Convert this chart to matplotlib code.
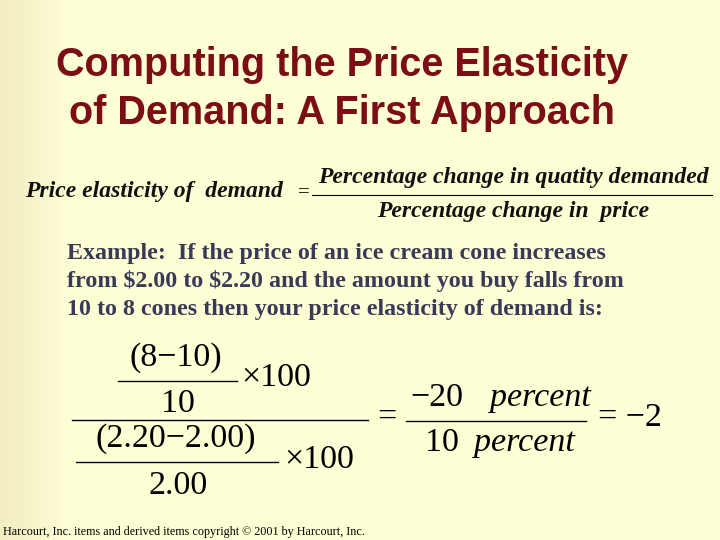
import matplotlib
matplotlib.use("Agg")
import matplotlib.pyplot as plt
import numpy as np
from matplotlib.lines import Line2D

plt.rcParams["text.parse_math"] = False

title_lines = ["Computing the Price Elasticity", "of Demand: A First Approach"]
formula_lhs = "Price elasticity of  demand"
formula_num = "Percentage change in quatity demanded"
formula_den = "Percentage change in  price"
example_lines = ["Example:  If the price of an ice cream cone increases",
                 "from $2.00 to $2.20 and the amount you buy falls from",
                 "10 to 8 cones then your price elasticity of demand is:"]
q_new, q_old = 8, 10
p_new, p_old = "2.20", "2.00"
pct_q, pct_p, elasticity = -20, 10, -2
footer = "Harcourt, Inc. items and derived items copyright © 2001 by Harcourt, Inc."

W, H = 720, 540
fig = plt.figure(figsize=(7.2, 5.4), dpi=100)
bg = fig.add_axes([0, 0, 1, 1])
grad = np.linspace(0, 1, 200)
c0 = np.array([0.95, 0.93, 0.76]); c1 = np.array([1.0, 1.0, 0.84])
t = np.clip(grad / 0.1, 0, 1)[None, :, None]
img = c0 * (1 - t) + c1 * t
bg.imshow(np.repeat(img, 2, axis=0), aspect="auto", extent=[0, W, H, 0])
bg.set_xlim(0, W); bg.set_ylim(H, 0); bg.axis("off")

def T(x, y, s, size, ha="left", **kw):
    bg.text(x, y, s, fontsize=size, ha=ha, va="center", **kw)

def L(x0, x1, y, lw=1.0):
    bg.add_line(Line2D([x0, x1], [y, y], color="black", lw=lw))

red = "#7A0E14"
T(342, 65, title_lines[0], 28.5, ha="center", color=red, weight="bold", family="Liberation Sans")
T(342, 113, title_lines[1], 28.5, ha="center", color=red, weight="bold", family="Liberation Sans")

ser = dict(family="Liberation Serif", style="italic", weight="bold", color="#111111")
T(25, 192, formula_lhs, 17, **ser)
T(298, 193, "=", 15, family="Liberation Serif")
T(513, 178, formula_num, 17, ha="center", **ser)
L(312, 712, 195, 0.8)
T(513, 211, formula_den, 17, ha="center", **ser)

for i, s in enumerate(example_lines):
    T(67, 253 + i * 28.5, s, 17.3, family="Liberation Serif", weight="bold", color="#3A3A58")

m = "\u2212"
ts = dict(family="Liberation Serif", color="black")
fs = 24.5
T(176, 358, f"({q_new}{m}{q_old})", fs, ha="center", **ts)
L(118, 237, 381)
T(241, 378, "×100", fs, **ts)
T(178, 404, f"{q_old}", fs, ha="center", **ts)
L(72, 368, 420)
T(176, 439, f"({p_new}{m}{p_old})", fs, ha="center", **ts)
L(76, 278, 462)
T(284, 460, "×100", fs, **ts)
T(178, 486, p_old, fs, ha="center", **ts)
T(387, 418, "=", fs, ha="center", **ts)
T(410, 398, f"{m}{abs(pct_q)}", fs, **ts)
T(490, 398, "percent", fs, style="italic", **ts)
L(406, 586, 421)
T(425, 443, f"{pct_p}", fs, **ts)
T(474, 443, "percent", fs, style="italic", **ts)
T(598, 418, f"= {m}{abs(elasticity)}", fs, **ts)

T(3, 532, footer, 8.7, **ts)
fig.savefig("out.png", dpi=100)
